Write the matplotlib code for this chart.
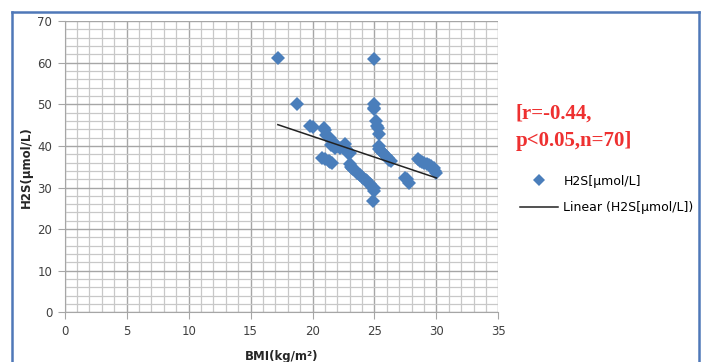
import numpy as np
import matplotlib.pyplot as plt
from matplotlib.lines import Line2D

# values
bmi = [17.2, 18.75, 19.8, 20.0, 20.9, 21.0,
       21.1, 21.4, 21.6, 21.5, 21.8, 22.0, 22.5, 22.6, 22.7, 22.9, 23.0,
       20.8, 21.0, 21.3, 21.6, 21.4,
       23.0, 23.1, 23.3, 23.5, 23.6, 23.8, 24.0, 24.1, 24.3, 24.5, 24.6, 24.8, 25.0, 24.9,
       25.0, 25.0, 25.0, 25.0, 25.1, 25.2, 25.3, 25.35, 25.35, 25.4, 25.5, 25.7, 25.9, 26.1, 26.2, 26.3,
       27.5, 27.6, 27.8,
       28.5, 28.7, 29.0, 29.2, 29.4, 29.6, 29.8, 29.9, 30.0,
       25.0, 22.2, 23.2, 24.4, 25.6, 28.8]
h2s = [61.2, 50.0, 44.8, 44.6, 44.3, 43.8,
       42.5, 41.8, 41.2, 40.2, 39.6, 40.0, 39.8, 40.4, 39.2, 38.2, 38.4,
       37.2, 36.8, 36.4, 36.0, 36.2,
       35.6, 35.0, 34.5, 34.0, 33.6, 33.0, 32.6, 32.4, 31.8, 31.2, 30.8, 30.2, 29.2, 26.7,
       60.9, 50.0, 49.2, 48.8, 46.0, 44.8, 44.2, 42.8, 40.0, 39.2, 38.8, 38.2, 37.6, 37.2, 36.6, 36.4,
       32.4, 32.0, 31.2,
       36.8, 36.3, 36.0, 35.7, 35.4, 35.2, 34.8, 34.0, 33.6,
       29.8, 39.4, 34.8, 31.5, 38.5, 36.1]

# Excel linear trend line (slope, intercept)
trend_slope = -1.0
trend_intercept = 62.3

blue = '#4a7ebb'

fig = plt.figure(figsize=(7.11, 3.62), dpi=100)
ax = fig.add_axes([0.091, 0.137, 0.61, 0.805])

ax.plot(bmi, h2s, 'D', color=blue, markersize=7.3, markeredgewidth=0, zorder=3)

xs = np.array([min(bmi), max(bmi)])
ax.plot(xs, trend_slope * xs + trend_intercept, color='#222222', lw=1.1, zorder=4)

ax.set_xlim(0, 35)
ax.set_ylim(0, 70)
ax.set_xticks(range(0, 36, 5))
ax.set_yticks(range(0, 71, 10))
ax.set_xticks(range(0, 36, 1), minor=True)
ax.set_yticks(range(0, 71, 2), minor=True)
ax.grid(which='major', color='#a6a6a6', lw=1.0)
ax.grid(which='minor', color='#c8c8c8', lw=0.9)
ax.set_axisbelow(True)
for s in ['top', 'right']:
    ax.spines[s].set_visible(False)
for s in ['left', 'bottom']:
    ax.spines[s].set_color('#a6a6a6')
ax.tick_params(which='major', length=5, color='#a6a6a6', labelsize=8.5,
               labelcolor='#404040', pad=4)
ax.tick_params(which='minor', length=0)

ax.set_xlabel('BMI(kg/m²)', fontsize=8.5, fontweight='bold', color='#262626', labelpad=9)
ax.set_ylabel('H2S(μmol/L)', fontsize=8.5, fontweight='bold', color='#262626', labelpad=3)

fig.text(0.725, 0.648, '[r=-0.44,\np<0.05,n=70]', color='#ee3030', fontsize=15,
         fontweight='bold', family='Liberation Serif', va='center', ha='left',
         linespacing=1.45)

handles = [Line2D([], [], ls='none', marker='D', color=blue, markersize=6.5, markeredgewidth=0),
           Line2D([], [], color='#222222', lw=1.1)]
fig.legend(handles, ['H2S[μmol/L]', 'Linear (H2S[μmol/L])'], loc='center left',
           bbox_to_anchor=(0.716, 0.463), frameon=False, fontsize=9,
           labelspacing=1.05, handlelength=3.0, handletextpad=0.45)

# blue frame around the chart area
frame_col = '#4f78b8'
fig.add_artist(Line2D([0.017, 0.017], [-0.1, 0.967], color=frame_col, lw=1.8))
fig.add_artist(Line2D([0.017, 0.983], [0.967, 0.967], color=frame_col, lw=1.8))
fig.add_artist(Line2D([0.983, 0.983], [-0.1, 0.967], color=frame_col, lw=1.8))

fig.savefig('out.png', dpi=100)
